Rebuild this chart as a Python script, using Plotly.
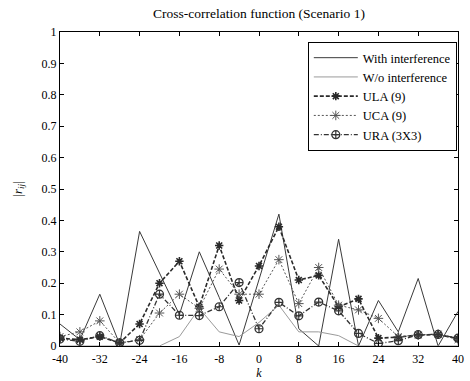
import plotly.graph_objects as go

k = list(range(-40, 41, 4))
with_interf = [0.07, 0.02, 0.165, 0.005, 0.365, 0.23, 0.10, 0.30, 0.155, 0.003, 0.21,
               0.42, 0.055, 0.0, 0.34, 0.0, 0.145, 0.045, 0.215, 0.0, 0.11]
wo_interf = [0.0, 0.0, 0.0, 0.0, 0.0, 0.0, 0.03, 0.12, 0.045, 0.03, 0.075,
             0.13, 0.045, 0.045, 0.033, 0.0, 0.0, 0.0, 0.0, 0.0, 0.0]
ula = [0.025, 0.02, 0.03, 0.01, 0.07, 0.20, 0.27, 0.125, 0.32, 0.145, 0.255,
       0.38, 0.21, 0.225, 0.125, 0.15, 0.025, 0.028, 0.035, 0.036, 0.024]
uca = [0.03, 0.045, 0.08, 0.01, 0.02, 0.105, 0.165, 0.12, 0.245, 0.165, 0.165,
       0.275, 0.135, 0.25, 0.13, 0.115, 0.088, 0.03, 0.035, 0.038, 0.02]
ura = [0.022, 0.015, 0.033, 0.01, 0.018, 0.165, 0.098, 0.097, 0.125, 0.202, 0.055,
       0.139, 0.096, 0.14, 0.112, 0.04, 0.008, 0.017, 0.036, 0.037, 0.025]

x_ticks = list(range(-40, 41, 8))
y_ticks = [0, 0.1, 0.2, 0.3, 0.4, 0.5, 0.6, 0.7, 0.8, 0.9, 1]
y_tick_text = ["0", "0.1", "0.2", "0.3", "0.4", "0.5", "0.6", "0.7", "0.8", "0.9", "1"]

FONT = "Liberation Serif, Times New Roman, serif"

fig = go.Figure()
fig.add_trace(go.Scatter(x=k, y=with_interf, mode="lines", name="With interference",
                         line=dict(color="#3a3a3a", width=1)))
fig.add_trace(go.Scatter(x=k, y=wo_interf, mode="lines", name="W/o interference",
                         line=dict(color="#9a9a9a", width=1)))
fig.add_trace(go.Scatter(x=k, y=ula, mode="lines+markers", name="ULA (9)",
                         line=dict(color="#2a2a2a", width=1.6, dash="4px,2px"),
                         marker=dict(symbol="asterisk-open", size=7,
                                     line=dict(color="#2a2a2a", width=1.6))))
fig.add_trace(go.Scatter(x=k, y=uca, mode="lines+markers", name="UCA (9)",
                         line=dict(color="#555555", width=1, dash="2px,2px"),
                         marker=dict(symbol="asterisk-open", size=8,
                                     line=dict(color="#555555", width=1))))
fig.add_trace(go.Scatter(x=k, y=ura, mode="lines+markers", name="URA (3X3)",
                         line=dict(color="#333333", width=1.3, dash="5px,2px,1px,2px"),
                         marker=dict(symbol="circle-cross-open", size=8,
                                     line=dict(color="#333333", width=1.2))))

axis_common = dict(showline=True, linecolor="black", linewidth=1, mirror="allticks",
                   ticks="inside", ticklen=4, tickcolor="black", showgrid=False,
                   zeroline=False, tickfont=dict(family=FONT, size=12, color="black"))

fig.update_layout(
    width=470, height=381,
    margin=dict(l=60, r=6, t=32, b=34),
    paper_bgcolor="white", plot_bgcolor="white",
    font=dict(family=FONT, size=12, color="black"),
    title=dict(text="Cross-correlation function (Scenario 1)", x=0.5, xref="paper",
               xanchor="center", y=0.966, yanchor="middle",
               font=dict(family=FONT, size=13.5, color="black")),
    xaxis=dict(range=[-40, 40], tickvals=x_ticks, ticktext=[str(v) for v in x_ticks],
               ticklabelstandoff=2,
               title=dict(text="<i>k</i>", standoff=0, font=dict(family=FONT, size=12)),
               **axis_common),
    yaxis=dict(range=[0, 1], tickvals=y_ticks, ticktext=y_tick_text,
               title=dict(text="|<i>r</i><sub><i>ij</i></sub>|", standoff=16,
                          font=dict(family=FONT, size=13)),
               **axis_common),
    legend=dict(x=0.997, xanchor="right", y=0.968, yanchor="top",
                bgcolor="white", bordercolor="black", borderwidth=1,
                font=dict(family=FONT, size=12.5, color="black"),
                tracegroupgap=0, itemwidth=44),
    showlegend=True,
)

fig.write_html("out.html")
